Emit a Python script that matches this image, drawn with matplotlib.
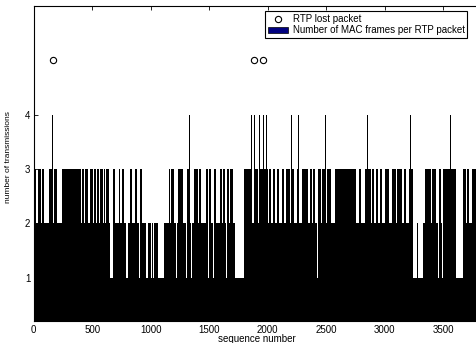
import numpy as np
import matplotlib
matplotlib.use("Agg")
import matplotlib.pyplot as plt
from matplotlib.patches import Patch
from matplotlib.lines import Line2D

plt.rcParams['font.family'] = ['Liberation Sans', 'DejaVu Sans']

# ---- data ----
n_packets = 3810
# runs (start, end) of sequence numbers with 2 MAC frames
level2_runs = [(20, 133), (147, 652), (680, 788), (803, 902), (916, 962), (975, 1005),
               (1010, 1018), (1030, 1042), (1050, 1064), (1117, 1720), (1800, 3242),
               (3280, 3286), (3324, 3600), (3680, 3810)]
# short runs inside the above that stay at 1 frame
level1_gaps = [(1220, 1226), (1305, 1311), (1348, 1354), (1420, 1426), (1490, 1496),
               (1533, 1539), (1590, 1596), (1647, 1653), (2133, 2139), (2424, 2430),
               (2509, 2515), (2523, 2529), (3350, 3356), (3427, 3433), (3459, 3465),
               (3493, 3499), (3550, 3556)]
# runs with 3 MAC frames
level3_runs = [(14, 22), (40, 50), (56, 64), (72, 90), (134, 154), (170, 200), (240, 300),
               (306, 350), (356, 400), (412, 432), (440, 460), (484, 504), (512, 532),
               (540, 560), (568, 590), (598, 612), (620, 640), (678, 694), (726, 740),
               (754, 768), (826, 840), (868, 882), (911, 925), (1154, 1168), (1176, 1196),
               (1230, 1246), (1252, 1272), (1310, 1324), (1368, 1384), (1390, 1406),
               (1412, 1430), (1475, 1491), (1495, 1514), (1543, 1557), (1594, 1608),
               (1617, 1634), (1651, 1671), (1680, 1699), (1800, 1845), (1850, 1862),
               (1880, 1920), (1926, 1998), (2008, 2026), (2045, 2061), (2079, 2098),
               (2122, 2140), (2159, 2192), (2199, 2220), (2250, 2271), (2293, 2340),
               (2358, 2374), (2387, 2402), (2427, 2454), (2464, 2496), (2507, 2539),
               (2578, 2640), (2646, 2700), (2706, 2753), (2777, 2795), (2834, 2881),
               (2891, 2909), (2928, 2943), (2962, 2980), (3005, 3037), (3062, 3100),
               (3106, 3151), (3162, 3180), (3204, 3237), (3347, 3393), (3404, 3436),
               (3461, 3479), (3498, 3540), (3545, 3605), (3668, 3692), (3703, 3721),
               (3745, 3778)]
# runs with 4 MAC frames
level4_runs = [(160, 167), (1332, 1339), (1859, 1866), (1885, 1892), (1905, 1912),
               (1929, 1936), (1957, 1964), (1984, 1991), (2202, 2209), (2262, 2269),
               (2493, 2500), (2849, 2856), (3219, 3226), (3562, 3569)]
# lost RTP packets
lost_seq = [167, 1886, 1957]
lost_level = [5, 5, 5]

x_ticks = [0, 500, 1000, 1500, 2000, 2500, 3000, 3500]
y_ticks = [1, 2, 3, 4]

# ---- build per-packet values ----
seq = np.arange(1, n_packets + 1)
frames = np.ones(n_packets)
for lvl, runs in ((2, level2_runs), (1, level1_gaps), (3, level3_runs), (4, level4_runs)):
    for a, b in runs:
        frames[(seq >= a) & (seq <= b)] = lvl

fig = plt.figure(figsize=(4.76, 3.43), dpi=100)
W, H = 476, 343
ax = fig.add_axes([33.7 / W, 22 / H, 445.8 / W, 315 / H])

ax.bar(seq, frames, width=1.0, color='black', linewidth=0)
ax.plot(lost_seq, lost_level, linestyle='none', marker='o', markersize=4.5,
        markerfacecolor='none', markeredgecolor='black', markeredgewidth=0.8)

ax.set_xlim(0, 3810)
ax.set_ylim(0.2, 6)
ax.set_xticks(x_ticks)
ax.set_yticks(y_ticks)
ax.tick_params(direction='in', top=True, right=True, length=3, width=0.6,
               labelsize=7, colors='black')
ax.tick_params(axis='y', pad=2.5)
ax.tick_params(axis='x', pad=3)
for s in ax.spines.values():
    s.set_linewidth(0.8)

ax.set_xlabel('sequence number', fontsize=7, labelpad=-1)
ax.set_ylabel('number of transmissions', fontsize=6)
ax.yaxis.set_label_coords(-0.048, 0.52)

handles = [Line2D([], [], linestyle='none', marker='o', markersize=4.5,
                  markerfacecolor='none', markeredgecolor='black', markeredgewidth=0.8),
           Patch(facecolor='#000080', edgecolor='black', linewidth=0.5)]
leg = fig.legend(handles, ['RTP lost packet', 'Number of MAC frames per RTP packet'],
                 loc='upper left', bbox_to_anchor=(265.3 / W, 1 - 11 / H),
                 fontsize=7, frameon=True, fancybox=False, framealpha=1,
                 edgecolor='black', borderpad=0.3, handletextpad=0.5,
                 labelspacing=0.15, handlelength=2.0, borderaxespad=0)
leg.get_frame().set_linewidth(0.8)

fig.savefig('out.png', dpi=100)
